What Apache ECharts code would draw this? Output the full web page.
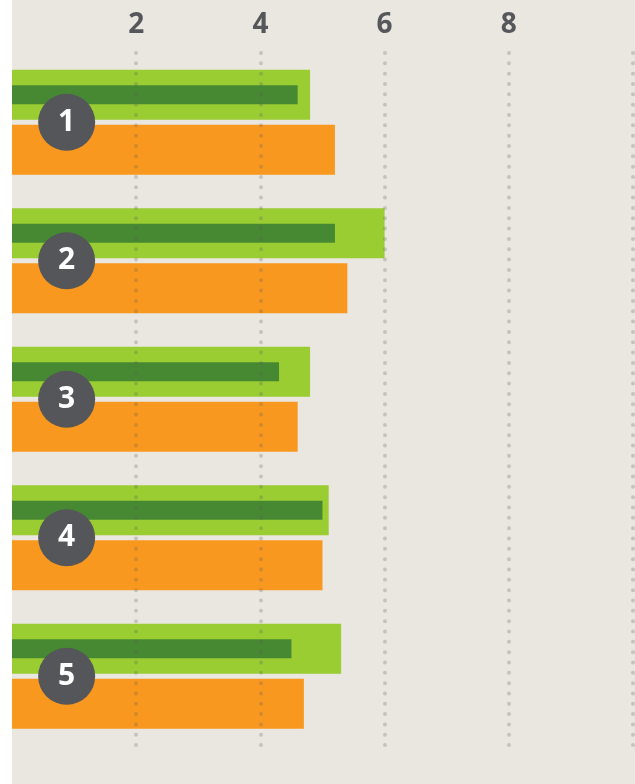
<!DOCTYPE html>
<html>
<head>
<meta charset="utf-8">
<script src="https://cdn.jsdelivr.net/npm/echarts@6/dist/echarts.min.js"></script>
<style>
  html, body { margin: 0; padding: 0; background: #ffffff; }
  #chart { position: absolute; left: 12px; top: 0; width: 623px; height: 784px; background: #eae6e0; }
</style>
</head>
<body>
<div id="chart"></div>
<script>
// data
const categories = ["1", "2", "3", "4", "5"];
const lightGreen = [4.8, 6.0, 4.8, 5.1, 5.3];
const darkGreen = [4.6, 5.2, 4.3, 5.0, 4.5];
const orange = [5.2, 5.4, 4.6, 5.0, 4.7];
const badgeX = [0.88, 0.88, 0.88, 0.88, 0.88];

const chart = echarts.init(document.getElementById("chart"));

const dotLine = {
  color: "rgba(90, 90, 90, 0.25)",
  width: 4,
  type: [0, 10.33],
  cap: "round"
};

const option = {
  animation: false,
  grid: [
    { left: 0, right: 2, top: 53, bottom: 38.5 },
    // shifted grid so the thin dark bars sit in the middle of the light ones
    { left: 0, right: 2, top: 25.5, bottom: 66 }
  ],
  xAxis: [
    {
      gridIndex: 0,
      type: "value",
      position: "top",
      min: 0,
      max: 10,
      interval: 2,
      z: 5,
      axisLine: { show: false },
      axisTick: { show: false },
      axisLabel: {
        showMinLabel: false,
        showMaxLabel: false,
        margin: 14,
        color: "#55575b",
        fontFamily: "Open Sans",
        fontWeight: "bold",
        fontSize: 28
      },
      splitLine: { show: true, showMinLine: false, lineStyle: dotLine }
    },
    {
      gridIndex: 1,
      type: "value",
      min: 0,
      max: 10,
      show: false
    }
  ],
  yAxis: [
    {
      gridIndex: 0,
      type: "category",
      data: categories,
      inverse: true,
      show: false
    },
    {
      gridIndex: 1,
      type: "category",
      data: categories,
      inverse: true,
      show: false
    }
  ],
  series: [
    {
      type: "bar",
      xAxisIndex: 0,
      yAxisIndex: 0,
      data: lightGreen,
      barWidth: 50,
      barGap: "10%",
      itemStyle: { color: "#9acd32" }
    },
    {
      type: "bar",
      xAxisIndex: 0,
      yAxisIndex: 0,
      data: orange,
      barWidth: 50,
      barGap: "10%",
      itemStyle: { color: "#f8981e" }
    },
    {
      type: "bar",
      xAxisIndex: 1,
      yAxisIndex: 1,
      data: darkGreen,
      barWidth: 19,
      itemStyle: { color: "#478933" }
    },
    {
      type: "scatter",
      xAxisIndex: 0,
      yAxisIndex: 0,
      z: 10,
      data: badgeX.map((x, i) => [x, categories[i]]),
      symbol: "circle",
      symbolSize: 57,
      itemStyle: { color: "#54565a", opacity: 1 },
      label: {
        show: true,
        position: "inside",
        formatter: p => p.data[1],
        color: "#ffffff",
        fontFamily: "Open Sans",
        fontWeight: "bold",
        fontSize: 30
      }
    }
  ]
};

chart.setOption(option);
</script>
</body>
</html>
